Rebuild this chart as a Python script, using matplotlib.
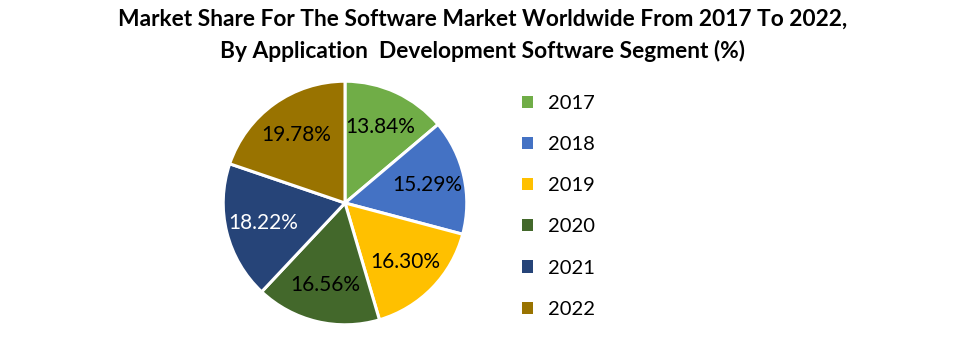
import matplotlib
matplotlib.use("Agg")
from matplotlib import pyplot as plt
from matplotlib.patches import Patch

plt.rcParams['font.family'] = ['Lato', 'DejaVu Sans']

# data
years = ['2017', '2018', '2019', '2020', '2021', '2022']
shares = [13.84, 15.29, 16.30, 16.56, 18.22, 19.78]
colors = ['#70AD47', '#4472C4', '#FFC000', '#43682B', '#264478', '#997300']
label_colors = ['black', 'black', 'black', 'black', 'white', 'black']

title = ("Market Share For The Software Market Worldwide From 2017 To 2022,\n"
         "By Application  Development Software Segment (%)")

W, H = 963, 340
fig = plt.figure(figsize=(W / 100, H / 100), dpi=100)

# pie centred at (345, 203) px with radius 123 px
cx, cy, r = 345, 203, 123
ax = fig.add_axes([(cx - r) / W, (H - cy - r) / H, 2 * r / W, 2 * r / H])

wedges, texts = ax.pie(
    shares, colors=colors, startangle=90, counterclock=False,
    labels=[f"{v:.2f}%" for v in shares], labeldistance=0.69,
    wedgeprops=dict(edgecolor='white', linewidth=2.2),
    textprops=dict(fontsize=15, ha='center', va='center'),
)
for t, c in zip(texts, label_colors):
    t.set_color(c)
    t.set_horizontalalignment('center')
ax.set_xlim(-1.01, 1.01)
ax.set_ylim(-1.01, 1.01)
ax.set_aspect('equal')

fig.text(483 / W, 1 - 9 / H, title, ha='center', va='top',
         fontsize=16.4, fontweight='bold', linespacing=1.55)

handles = [Patch(facecolor=c, edgecolor='none') for c in colors]
fig.legend(handles, years, loc='upper left', bbox_to_anchor=(522 / W, 1 - 95 / H),
           frameon=False, fontsize=14.5, handlelength=0.55, handleheight=0.55,
           handletextpad=0.75, labelspacing=1.2, borderpad=0, borderaxespad=0)

fig.savefig('out.png', dpi=100, facecolor='white')
